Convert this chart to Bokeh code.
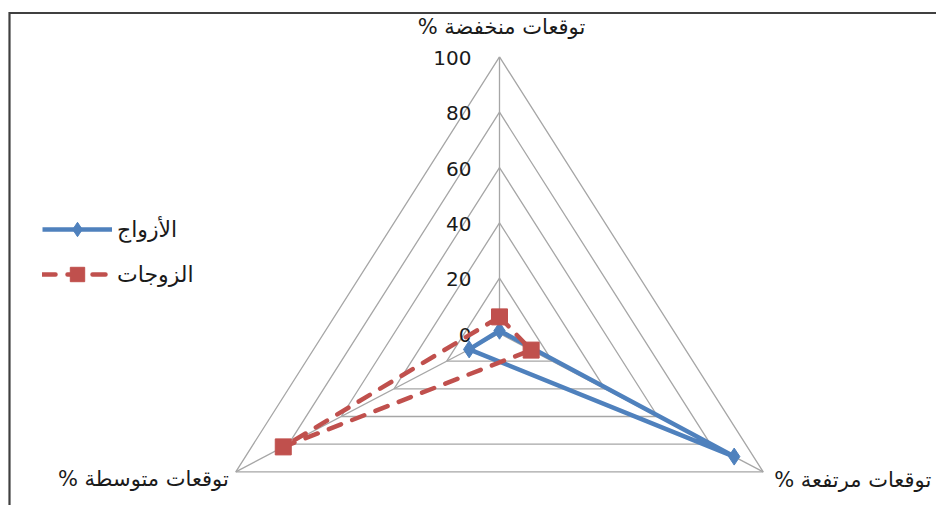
import numpy as np
from bokeh.plotting import figure
from bokeh.models import ColumnDataSource, Legend, LegendItem
from bokeh.embed import file_html
from bokeh.resources import INLINE
from bokeh.core.properties import value

# ---------------- data ----------------
categories = ["توقعات منخفضة %", "توقعات مرتفعة %", "توقعات متوسطة %"]
series_names = ["الأزواج", "الزوجات"]
husbands = [1, 89, 11.5]
wives = [6, 12, 82]
ticks = [0, 20, 40, 60, 80, 100]
tick_labels = ["0", "20", "40", "60", "80", "100"]

# ---------------- layout / style ----------------
W, H = 936, 505
CX, CY = 499, 333          # radar centre in frame pixels
SX, SY = 3.045, 2.766      # pixels per unit (horizontal / vertical)
FONT = value("DejaVu Sans")
BLUE, RED, GRID = "#4F81BD", "#C0504D", "#A6A6A6"
RMAX = ticks[-1]

theta = np.array([2 * np.pi * k / len(categories) for k in range(len(categories))])


def polar(vals):
    v = np.asarray(vals, dtype=float)
    return v * np.sin(theta), v * np.cos(theta)


def page_to_data(px, py):
    return (px - CX) / SX, (CY - py) / SY


p = figure(width=W, height=H,
           x_range=(-CX / SX, (W - CX) / SX),
           y_range=(-(H - CY) / SY, CY / SY),
           output_backend="svg", toolbar_location=None,
           x_axis_location=None, y_axis_location=None, min_border=0)
p.grid.visible = False
p.outline_line_color = None
p.background_fill_color = "white"
p.border_fill_color = "white"

# chart border (only top and left edges visible in the crop)
x_l, y_b = page_to_data(9, H + 5)
x_c, y_c = page_to_data(9, 12.5)
x_r, _ = page_to_data(W + 5, 12.5)
p.line([x_l, x_c, x_r], [y_b, y_c, y_c], line_color="#404040", line_width=2.2,
       line_join="miter")

# grid triangles
gx, gy = [], []
for t in ticks[1:]:
    x, y = polar([t] * len(categories))
    gx.append(list(x) + [x[0]])
    gy.append(list(y) + [y[0]])
p.multi_line(gx, gy, line_color=GRID, line_width=1.3)

# spokes
ox, oy = polar([RMAX] * len(categories))
p.segment(x0=[0] * len(categories), y0=[0] * len(categories), x1=ox, y1=oy,
          line_color=GRID, line_width=1.3)

# tick labels on the first axis
p.text(x=[0] * len(ticks), y=ticks, text=tick_labels, text_align="right",
       text_baseline="middle", x_offset=-28, y_offset=1, text_font=FONT,
       text_font_size="20px", text_color="#1a1a1a")

# category labels
cat_align = ["center", "left", "right"]
cat_dx = [2, 11, -7]
cat_dy = [-30, 8, 7]
for i, c in enumerate(categories):
    p.text(x=[ox[i]], y=[oy[i]], text=[c + "\u200f"], text_align=cat_align[i],
           text_baseline="middle", x_offset=cat_dx[i], y_offset=cat_dy[i],
           text_font=FONT, text_font_size="21px", text_color="#1a1a1a")

# series
hx, hy = polar(husbands)
wx, wy = polar(wives)
l1 = p.line(list(hx) + [hx[0]], list(hy) + [hy[0]], line_color=BLUE, line_width=4.5,
            line_join="round")
m1 = p.scatter(hx, hy, marker="diamond", size=17, fill_color=BLUE, line_color=BLUE)
l2 = p.line(list(wx) + [wx[0]], list(wy) + [wy[0]], line_color=RED, line_width=4.5,
            line_dash="13 12", line_cap="round", line_join="round")
m2 = p.scatter(wx, wy, marker="square", size=16, fill_color=RED, line_color=RED)

legend = Legend(items=[LegendItem(label=series_names[0], renderers=[l1, m1]),
                       LegendItem(label=series_names[1], renderers=[l2, m2])],
                location=(42, 213), orientation="vertical",
                border_line_color=None, background_fill_alpha=0,
                padding=0, margin=0, spacing=9, glyph_width=70, glyph_height=36,
                label_height=36, label_standoff=5,
                label_text_font_size="22px", label_text_font="DejaVu Sans",
                label_text_color="#1a1a1a", label_text_baseline="middle")
p.add_layout(legend)

open("out.html", "w").write(file_html(p, INLINE))
